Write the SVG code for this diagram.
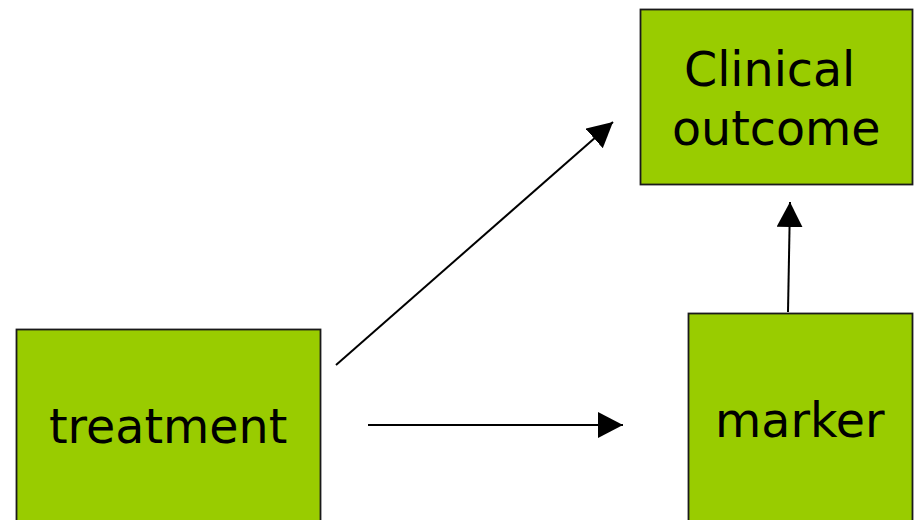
<svg xmlns="http://www.w3.org/2000/svg" width="914" height="520" viewBox="0 0 914 520">
<style>
.box{fill:#99cc00;stroke:#1a1a1a;stroke-width:1.8}
.lbl{font-family:"DejaVu Sans",Verdana,sans-serif;font-size:47.5px;fill:#000}
.conn{stroke:#000;stroke-width:2;fill:none;marker-end:url(#ah)}
</style>
<defs>
<marker id="ah" markerUnits="userSpaceOnUse" markerWidth="26" markerHeight="28" refX="25" refY="13" orient="auto">
<path d="M0,0 L25,13 L0,26 Z" fill="#000"/>
</marker>
</defs>
<rect width="914" height="520" fill="#fff"/>
<g id="outcome">
<rect class="box" x="640.5" y="9.5" width="272" height="175"/>
<text class="lbl" x="684" y="86">Clinical</text>
<text class="lbl" x="672" y="145">outcome</text>
</g>
<g id="treatment">
<rect class="box" x="16.5" y="329.5" width="304" height="200"/>
<text class="lbl" x="49" y="443">treatment</text>
</g>
<g id="marker">
<rect class="box" x="688.5" y="313.5" width="224" height="220"/>
<text class="lbl" x="715" y="437">marker</text>
</g>
<g id="connectors">
<line class="conn" x1="336" y1="365" x2="613" y2="122"/>
<line class="conn" x1="368" y1="425" x2="623" y2="425"/>
<line class="conn" x1="788" y1="312" x2="790" y2="202"/>
</g>
</svg>
